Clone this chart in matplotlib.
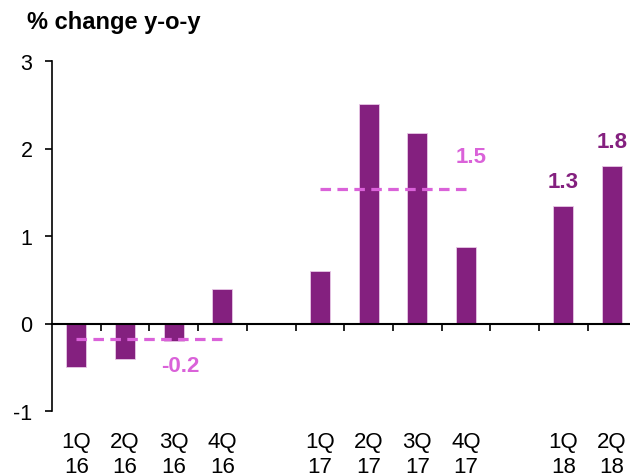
import numpy as np
import matplotlib
matplotlib.use("Agg")
import matplotlib.pyplot as plt

plt.rcParams['font.family'] = ['Liberation Sans', 'DejaVu Sans']

categories = ["1Q\n16", "2Q\n16", "3Q\n16", "4Q\n16", "",
              "1Q\n17", "2Q\n17", "3Q\n17", "4Q\n17", "",
              "1Q\n18", "2Q\n18"]
values = [-0.5, -0.4, -0.2, 0.4, np.nan,
          0.6, 2.51, 2.18, 0.87, np.nan,
          1.34, 1.80]
avg_2016_idx = [0, 1, 2, 3]
avg_2017_idx = [5, 6, 7, 8]
avg_2016_label = "-0.2"
avg_2017_label = "1.5"
bar_labels = {10: "1.3", 11: "1.8"}

bar_color = "#84207F"
avg_color = "#DA62D9"

fig = plt.figure(figsize=(6.3, 4.77), dpi=100)
ax = fig.add_axes([52/630, 1 - 412/477, 578/630, 350/477])

x = np.arange(len(categories))
vals = np.array(values, dtype=float)
mask = ~np.isnan(vals)
ax.bar(x[mask], vals[mask], width=0.41, color=bar_color,
       edgecolor="#E8C8E6", linewidth=0.6, zorder=2)

avg16 = np.mean(vals[avg_2016_idx])
avg17 = np.mean(vals[avg_2017_idx])
ax.plot([avg_2016_idx[0], avg_2016_idx[-1]], [avg16, avg16], color=avg_color,
        lw=2.3, dashes=(3.3, 2.0), zorder=3)
ax.plot([avg_2017_idx[0], avg_2017_idx[-1]], [avg17, avg17], color=avg_color,
        lw=2.3, dashes=(3.3, 2.0), zorder=3)

ax.text(2.13, -0.48, avg_2016_label, color=avg_color, fontsize=16,
        fontweight='bold', ha='center', va='center')
ax.text(8.1, 1.91, avg_2017_label, color=avg_color, fontsize=16,
        fontweight='bold', ha='center', va='center')
for i, lab in bar_labels.items():
    ax.text(i, vals[i] + 0.28, lab, color=bar_color, fontsize=16,
            fontweight='bold', ha='center', va='center')

ax.set_xlim(-0.5, -0.5 + 578/48.7)
ax.set_ylim(-1, 3)
ax.set_yticks([-1, 0, 1, 2, 3])
ax.set_yticklabels(["-1", "0", "1", "2", "3"])
ax.tick_params(axis='y', direction='out', length=5, width=1.2, pad=9,
               labelsize=15.5, colors='black')

ax.spines['top'].set_visible(False)
ax.spines['right'].set_visible(False)
ax.spines['bottom'].set_position(('data', 0))
ax.spines['bottom'].set_linewidth(1.5)
ax.spines['left'].set_linewidth(1.2)

ax.set_xticks(np.arange(1, len(categories)) - 0.5)
ax.set_xticklabels([])
ax.tick_params(axis='x', direction='out', length=5, width=1.2)

for i, lab in enumerate(categories):
    if lab:
        ax.text(i, -1.49, lab, ha='center', va='center', fontsize=16,
                linespacing=1.27)

fig.text(27/630, 1 - 23/477, "% change y-o-y", fontsize=17,
         fontweight='bold', ha='left', va='center')

fig.savefig("out.png", dpi=100)
